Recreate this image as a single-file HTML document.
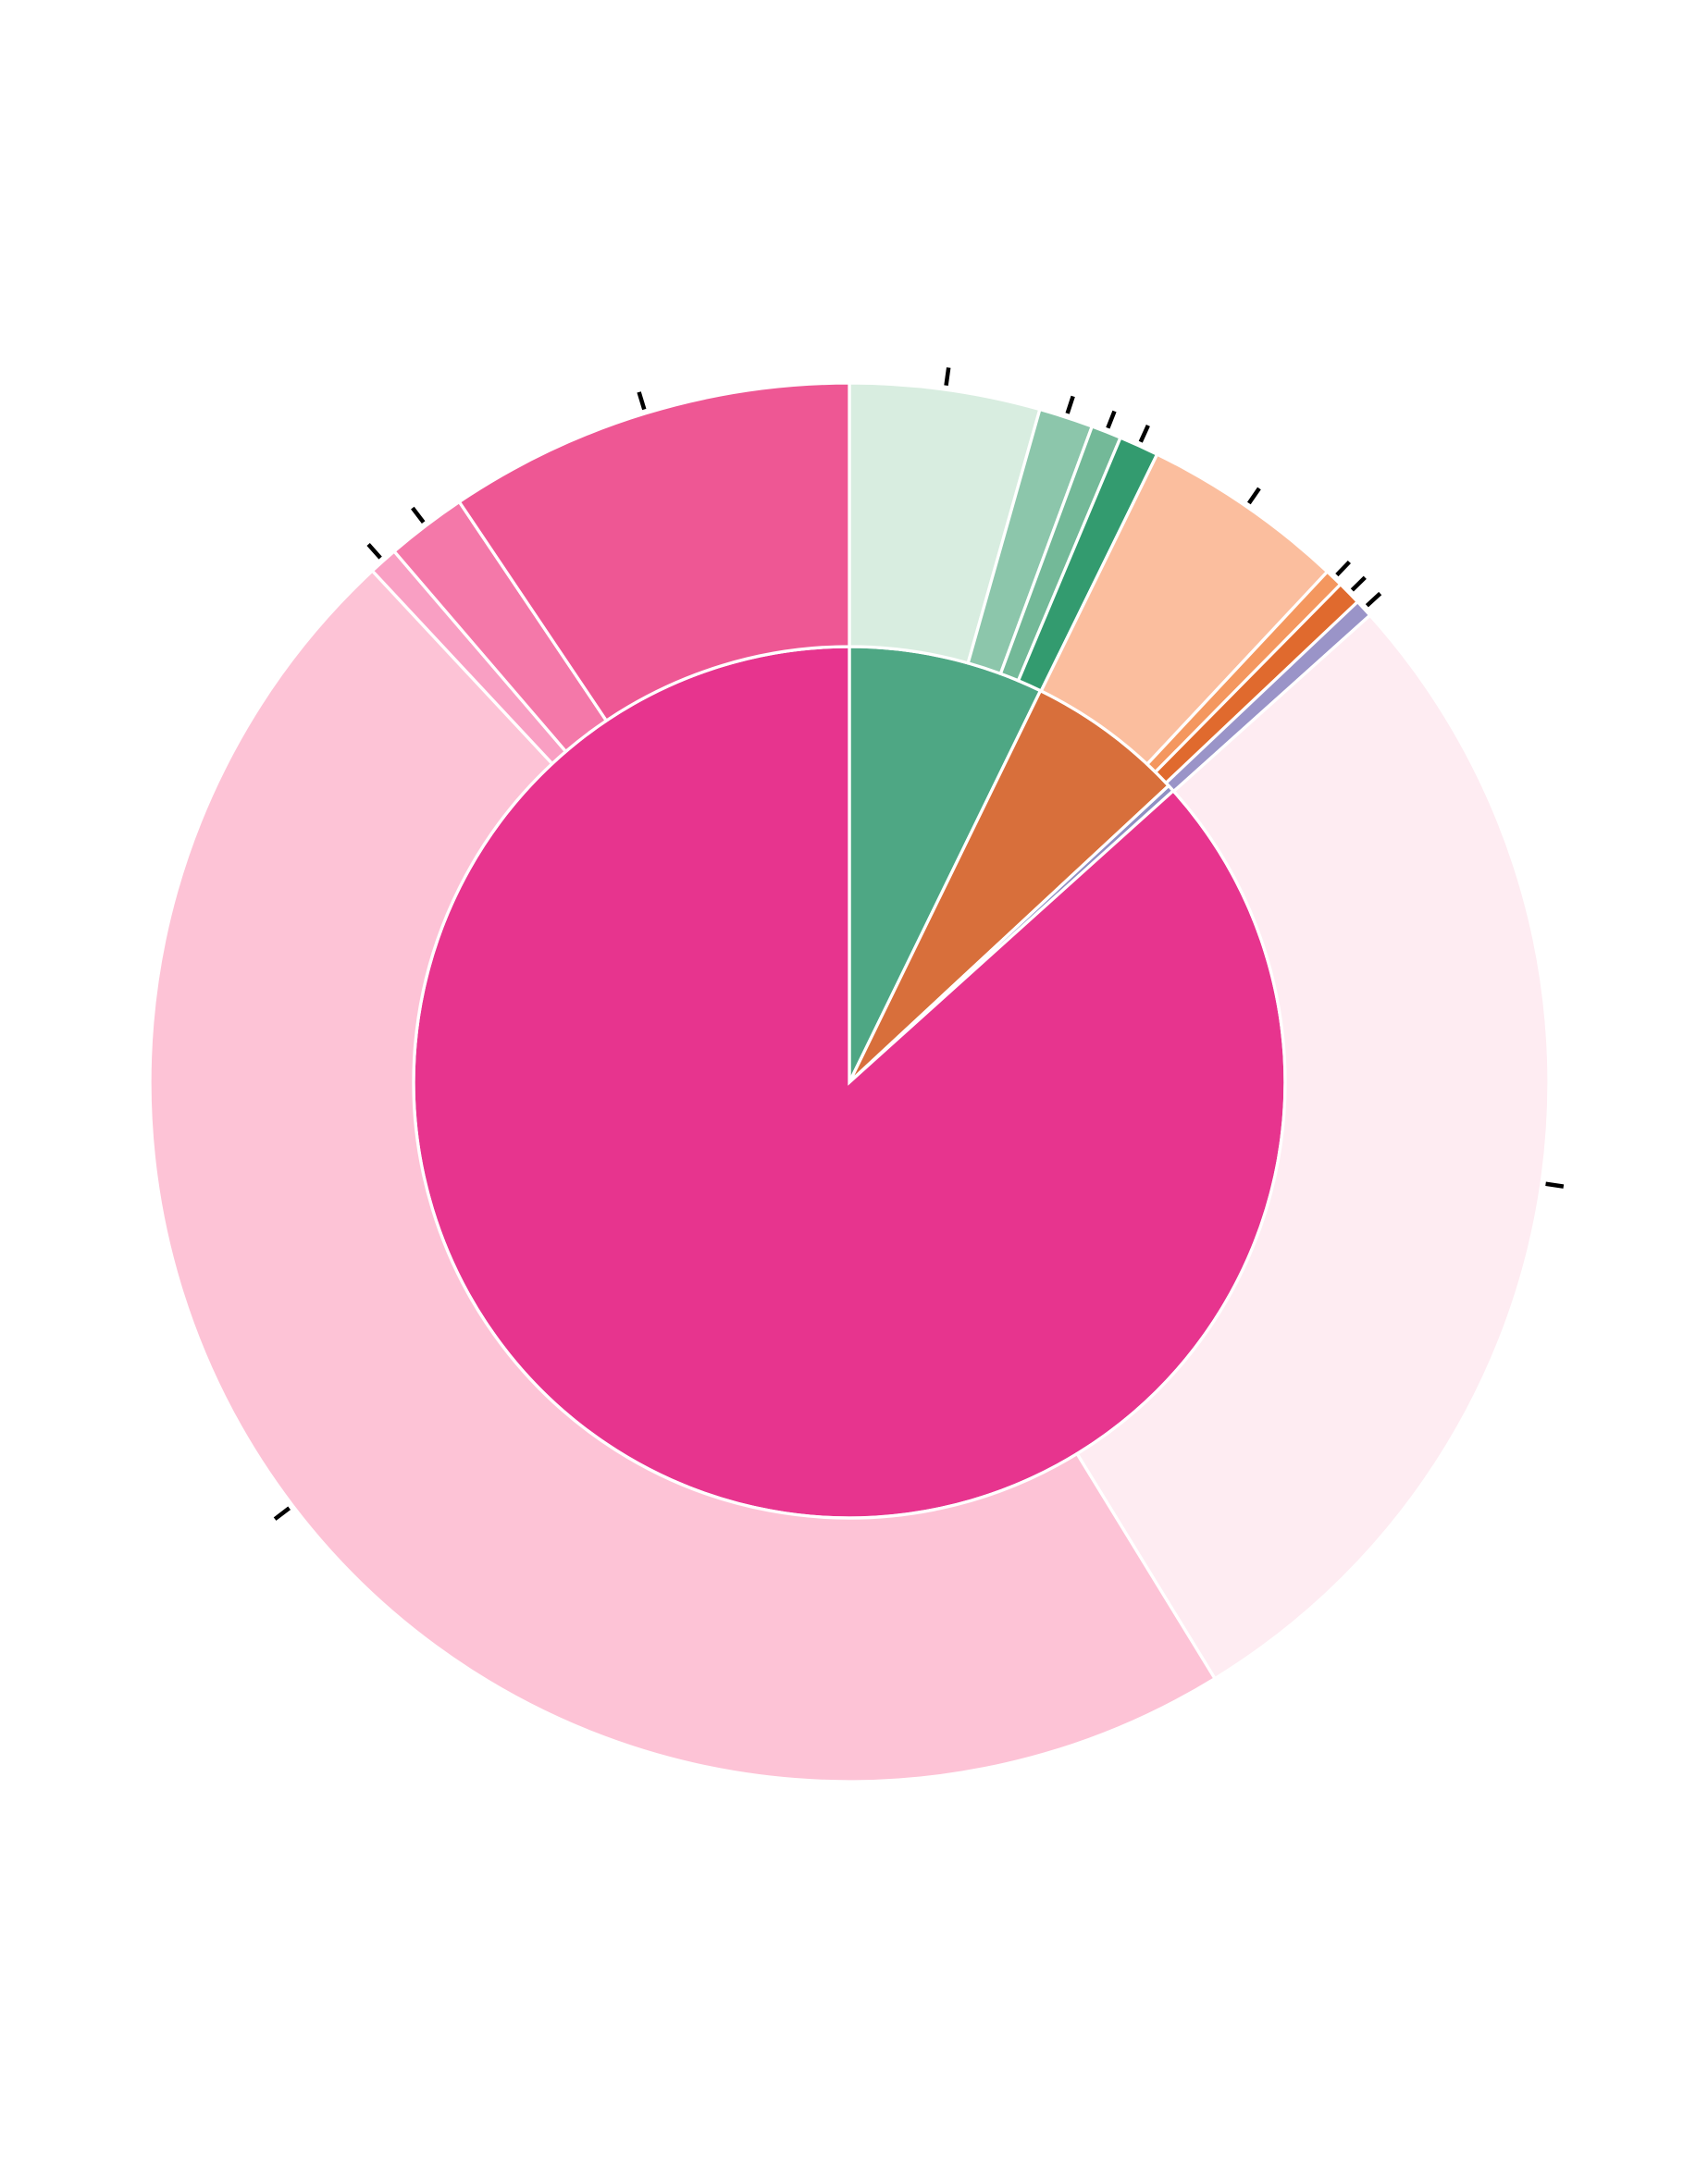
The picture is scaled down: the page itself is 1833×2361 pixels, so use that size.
<!DOCTYPE html>
<html><head><meta charset="utf-8"><style>html,body{margin:0;padding:0;background:#fff}svg{display:block}</style></head>
<body>
<svg id="chart" width="1833" height="2361" viewBox="0 0 1222 1574" preserveAspectRatio="none" xmlns="http://www.w3.org/2000/svg">
<g id="inner"></g>
<g id="outer"></g>
<g id="ticks"></g>
</svg>
<script>
const innerCategories = ["green", "orange", "purple", "pink"];
const innerValues = [26, 21.1, 0.9, 312];
const innerColors = ["#4ea784", "#d86f3b", "#8f8fc4", "#e7348e"];
const outerCategories = ["g1","g2","g3","g4","o1","o2","o3","p1","k1","k2","k3","k4","k5"];
const outerValues = [15.8, 4.5, 2.5, 3.3, 17, 1.5, 2, 1.5, 100.4, 168.5, 2.4, 6.7, 33.9];
const outerColors = ["#d8ede0","#8cc6ab","#73b998","#339b6f","#fbbe9e","#f4975f","#e06a2e","#9a94c8","#feecf2","#fdc3d6","#f99fc3","#f478a9","#ee5794"];

const cx = 612, cy = 780, rIn = 314, rOut = 504;
const NS = "http://www.w3.org/2000/svg";
function pt(r, a) { const t = a * Math.PI / 180; return [cx + r * Math.sin(t), cy - r * Math.cos(t)]; }
function arcPath(r0, r1, a0, a1) {
  const large = (a1 - a0) > 180 ? 1 : 0;
  const p1 = pt(r1, a0), p2 = pt(r1, a1);
  if (r0 === 0) return `M${cx},${cy}L${p1}A${r1},${r1} 0 ${large} 1 ${p2}Z`;
  const p3 = pt(r0, a1), p4 = pt(r0, a0);
  return `M${p1}A${r1},${r1} 0 ${large} 1 ${p2}L${p3}A${r0},${r0} 0 ${large} 0 ${p4}Z`;
}
function ring(g, vals, cols, cats, r0, r1, ticks) {
  const tot = vals.reduce((a, b) => a + b, 0);
  let a = 0;
  vals.forEach((v, i) => {
    const a1 = a + v / tot * 360;
    const p = document.createElementNS(NS, "path");
    p.setAttribute("d", arcPath(r0, r1, a, a1));
    p.setAttribute("fill", cols[i]);
    p.setAttribute("stroke", "#fff");
    p.setAttribute("stroke-width", "2.2");
    
    
    g.appendChild(p);
    if (ticks) {
      const m = (a + a1) / 2, s = pt(r1 + 3, m), e = pt(r1 + 16, m);
      const l = document.createElementNS(NS, "line");
      l.setAttribute("x1", s[0]); l.setAttribute("y1", s[1]);
      l.setAttribute("x2", e[0]); l.setAttribute("y2", e[1]);
      l.setAttribute("stroke", "#000"); l.setAttribute("stroke-width", "3");
      
      
      ticks.appendChild(l);
    }
    a = a1;
  });
}
ring(document.getElementById("outer"), outerValues, outerColors, outerCategories, rIn, rOut, document.getElementById("ticks"));
ring(document.getElementById("inner"), innerValues, innerColors, innerCategories, 0, rIn, null);
</script>
</body></html>
